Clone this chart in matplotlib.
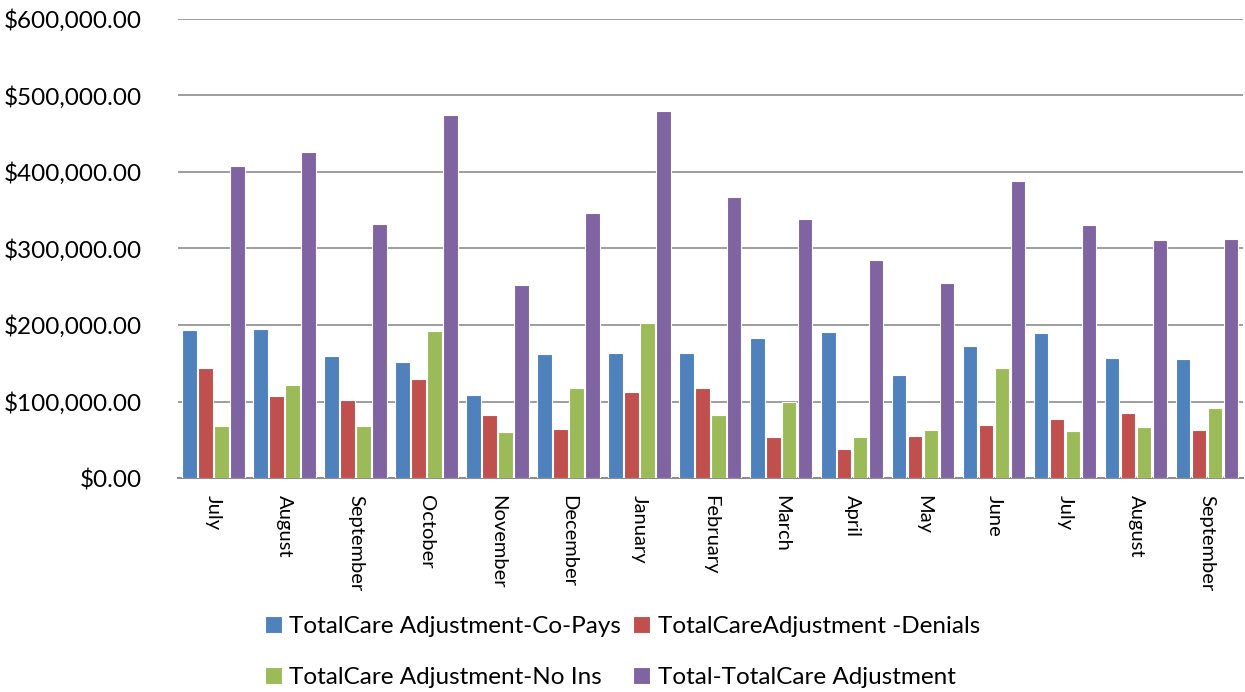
import numpy as np
import matplotlib
matplotlib.use("Agg")
import matplotlib.pyplot as plt
from matplotlib.ticker import FuncFormatter

plt.rcParams['font.family'] = ['Lato', 'DejaVu Sans']

months = ["July", "August", "September", "October", "November", "December",
          "January", "February", "March", "April", "May", "June",
          "July", "August", "September"]

co_pays = [193000, 194800, 159800, 152000, 108700, 162400, 162900, 163800,
           183400, 190800, 134500, 172900, 189500, 156800, 155900]
denials = [144100, 107400, 101700, 129300, 82500, 63800, 112200, 118300,
           54100, 38400, 55500, 69400, 77300, 85600, 63300]
no_ins = [68600, 122300, 68100, 191700, 60700, 118300, 202600, 83000,
          99600, 53700, 63300, 144100, 61600, 66400, 91700]
total = [407000, 425800, 331400, 474700, 252800, 345900, 479500, 366800,
         338400, 284300, 255500, 387800, 330100, 310500, 312200]

series = [
    ("TotalCare Adjustment-Co-Pays", co_pays, "#4F81BD"),
    ("TotalCareAdjustment -Denials", denials, "#C0504D"),
    ("TotalCare Adjustment-No Ins", no_ins, "#9BBB59"),
    ("Total-TotalCare Adjustment", total, "#8064A2"),
]

fig = plt.figure(figsize=(12.45, 6.92), dpi=100)
ax = fig.add_axes([0.143, 0.309, 0.855, 0.664])

x = np.arange(len(months))
step = 0.225
width = 0.205
bars = []
for i, (name, vals, color) in enumerate(series):
    b = ax.bar(x + (i - 1.5) * step, vals, width, color=color, label=name,
               edgecolor="white", linewidth=0.8, zorder=3)
    bars.append(b)

ax.set_xlim(-0.5, len(months) - 0.5)
ax.set_ylim(0, 600000)
ax.set_yticks(np.arange(0, 600001, 100000))
ax.yaxis.set_major_formatter(FuncFormatter(lambda v, p: f"${v:,.2f}"))
ax.set_xticks(x)
ax.set_xticklabels(months, rotation=-90, fontsize=14.5)
ax.tick_params(axis="y", labelsize=17.5, length=0, pad=26)
ax.tick_params(axis="x", length=0, pad=12)
ax.grid(axis="y", color="#8C8C8C", linewidth=1.2, zorder=0)

for s in ["top", "right", "left"]:
    ax.spines[s].set_visible(False)
ax.spines["bottom"].set_color("#8C8C8C")
ax.spines["bottom"].set_linewidth(1.5)

# legend fills by column, so order items to read row by row
order = [0, 2, 1, 3]
fig.legend([bars[i] for i in order], [series[i][0] for i in order],
           loc="lower center", bbox_to_anchor=(0.5, -0.012), ncol=2,
           frameon=False, fontsize=17.5, handlelength=0.7, handleheight=0.7,
           handletextpad=0.3, columnspacing=0.5, labelspacing=1.25,
           borderpad=0)

fig.savefig("out.png", dpi=100)
